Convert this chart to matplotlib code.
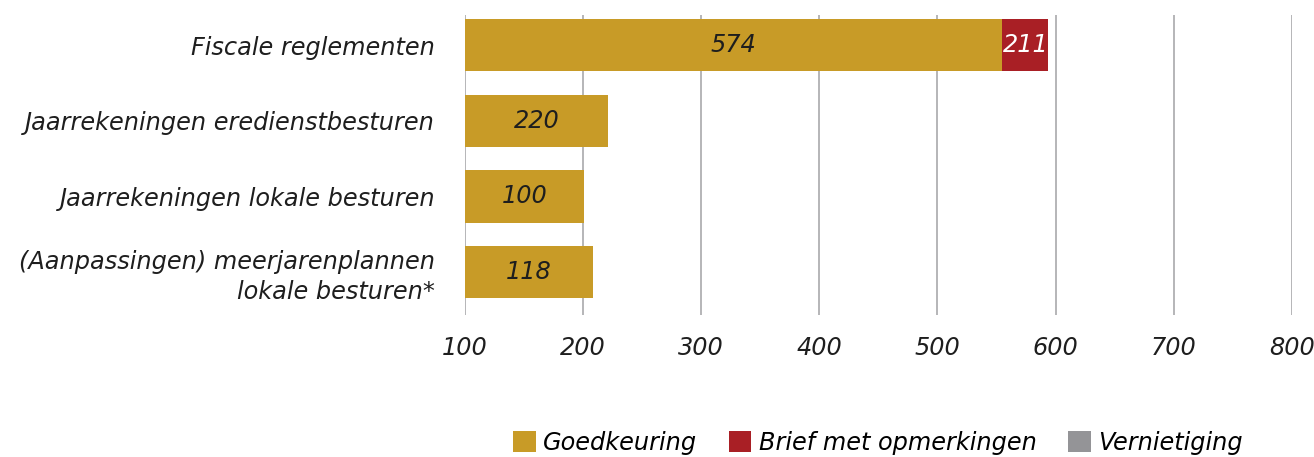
import matplotlib
matplotlib.use("Agg")
import matplotlib.pyplot as plt
from matplotlib.patches import Patch

categories = ["Fiscale reglementen", "Jaarrekeningen eredienstbesturen",
              "Jaarrekeningen lokale besturen",
              "(Aanpassingen) meerjarenplannen\nlokale besturen*"]
series_names = ["Goedkeuring", "Brief met opmerkingen", "Vernietiging"]
# bar extents as drawn (axis starts at 100)
goedkeuring = [555, 221, 201, 208]
brief = [39, 0, 0, 0]
vernietiging = [0, 0, 0, 0]
# printed data labels
goedkeuring_labels = ["574", "220", "100", "118"]
brief_labels = ["211", "", "", ""]
xticks = [100, 200, 300, 400, 500, 600, 700, 800]

colors = ["#C89B27", "#A91F25", "#949497"]
FS = 17.3
TXT = "#1e1e1e"

plt.rcParams['font.family'] = ['DejaVu Sans']
fig = plt.figure(figsize=(13.14, 4.57), dpi=100)
ax = fig.add_axes([0.354, 0.3107, 0.629, 0.656])

y = list(range(len(categories)))
h = 0.69
ax.barh(y, goedkeuring, height=h, color=colors[0], zorder=3)
ax.barh(y, brief, left=goedkeuring, height=h, color=colors[1], zorder=3)
left3 = [g + b for g, b in zip(goedkeuring, brief)]
ax.barh(y, vernietiging, left=left3, height=h, color=colors[2], zorder=3)

for i in y:
    cx = (100 + goedkeuring[i]) / 2
    ax.text(cx, i, goedkeuring_labels[i], ha="center", va="center",
            fontsize=FS, style="italic", color=TXT, zorder=4)
    if brief_labels[i]:
        ax.text(goedkeuring[i] + brief[i] / 2, i, brief_labels[i], ha="center", va="center",
                fontsize=FS, style="italic", color="white", zorder=4)

ax.set_xlim(100, 800)
ax.set_ylim(3.57, -0.40)
ax.set_xticks(xticks)
ax.set_xticklabels([str(t) for t in xticks], fontsize=FS, style="italic", color=TXT)
ax.set_yticks(y)
ax.set_yticklabels(categories, fontsize=FS, style="italic", color=TXT, linespacing=1.3)
ax.tick_params(axis="x", length=0, pad=15)
ax.tick_params(axis="y", length=0, pad=21.6)
for s in ax.spines.values():
    s.set_visible(False)
ax.grid(axis="x", color="#B5B5B8", linewidth=1.4, zorder=0)
ax.grid(axis="y", visible=False)

handles = [Patch(facecolor=c, edgecolor="none") for c in colors]
fig.legend(handles, series_names, loc="center", bbox_to_anchor=(0.668, 0.031), ncol=3,
           frameon=False, prop={"size": FS, "style": "italic"},
           handlelength=0.95, handleheight=0.95, handletextpad=0.3, columnspacing=1.3,
           borderaxespad=0, borderpad=0)

fig.savefig("out.png", dpi=100)
